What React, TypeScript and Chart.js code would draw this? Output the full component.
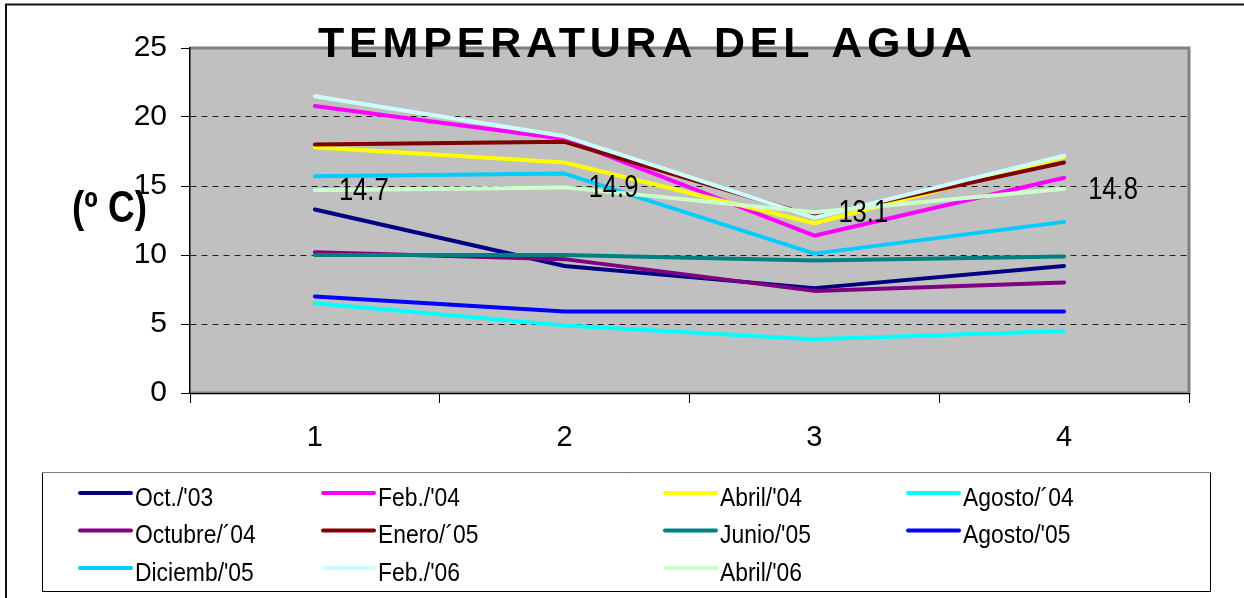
import React, { useEffect, useRef } from 'react';
import { Chart, registerables } from 'chart.js';

Chart.register(...registerables);

// ---- data ----
const categories = ['1', '2', '3', '4'];
const seriesNames = [
  "Oct./'03", "Feb./'04", "Abril/'04", 'Agosto/´04',
  'Octubre/´04', 'Enero/´05', "Junio/'05", "Agosto/'05",
  "Diciemb/'05", "Feb./'06", "Abril/'06",
];
const oct03 = [13.3, 9.2, 7.6, 9.2];
const feb04 = [20.8, 18.4, 11.4, 15.6];
const abril04 = [17.8, 16.7, 12.3, 17.1];
const agosto04 = [6.5, 4.9, 3.9, 4.5];
const octubre04 = [10.2, 9.7, 7.4, 8.0];
const enero05 = [18.0, 18.2, 12.8, 16.7];
const junio05 = [10.0, 10.0, 9.6, 9.9];
const agosto05 = [7.0, 5.9, 5.9, 5.9];
const diciemb05 = [15.7, 15.9, 10.1, 12.4];
const feb06 = [21.5, 18.6, 12.7, 17.2];
const abril06 = [14.7, 14.9, 13.1, 14.8];
const seriesColors = [
  '#000080', '#FF00FF', '#FFFF00', '#00FFFF',
  '#800080', '#800000', '#008080', '#0000FF',
  '#00CCFF', '#CCFFFF', '#CCFFCC',
];
const yMin = 0;
const yMax = 25;
const yStep = 5;
const labeledSeries = 10;
const titleText = 'TEMPERATURA DEL AGUA';
const yTitleText = '(º C)';

const FONT = '"Liberation Sans", Arial, Helvetica, sans-serif';

function condensedText(ctx: CanvasRenderingContext2D, text: string, x: number, y: number, sx: number) {
  ctx.save();
  ctx.translate(x, y);
  ctx.scale(sx, 1);
  ctx.fillText(text, 0, 0);
  ctx.restore();
}

export default function App() {
  const ref = useRef<HTMLCanvasElement | null>(null);

  useEffect(() => {
    const canvas = ref.current;
    if (!canvas) return;
    const values = [oct03, feb04, abril04, agosto04, octubre04, enero05, junio05, agosto05, diciemb05, feb06, abril06];

    const legendCols = [80, 323, 665, 908];
    const legendRows = [493, 530.5, 568];

    const decor = {
      id: 'decor',
      beforeDraw(chart: any) {
        const { ctx, chartArea: a } = chart;
        ctx.save();
        ctx.fillStyle = '#ffffff';
        ctx.fillRect(0, 0, chart.width, chart.height);
        // outer frame
        ctx.strokeStyle = '#111';
        ctx.lineWidth = 2;
        ctx.beginPath();
        ctx.moveTo(6, chart.height + 2);
        ctx.lineTo(6, 4.5);
        ctx.lineTo(chart.width + 2, 4.5);
        ctx.stroke();
        // plot area
        ctx.fillStyle = '#C0C0C0';
        ctx.fillRect(a.left, a.top, a.right - a.left, a.bottom - a.top);
        ctx.strokeStyle = '#808080';
        ctx.lineWidth = 3;
        ctx.beginPath();
        ctx.moveTo(a.left, a.top);
        ctx.lineTo(a.right, a.top);
        ctx.lineTo(a.right, a.bottom);
        ctx.lineTo(a.left, a.bottom);
        ctx.stroke();
        ctx.restore();
      },
      afterDraw(chart: any) {
        const { ctx } = chart;
        ctx.save();
        // title
        ctx.fillStyle = '#000';
        ctx.font = `bold 43px ${FONT}`;
        (ctx as any).letterSpacing = '4.8px';
        ctx.textAlign = 'left';
        ctx.textBaseline = 'alphabetic';
        ctx.fillText(titleText, 318, 57);
        (ctx as any).letterSpacing = '0px';
        // y title
        ctx.font = `bold 44px ${FONT}`;
        condensedText(ctx, yTitleText, 72, 222, 0.84);
        // data labels
        const meta = chart.getDatasetMeta(labeledSeries);
        ctx.font = `32px ${FONT}`;
        ctx.textBaseline = 'middle';
        meta.data.forEach((pt: any, i: number) => {
          condensedText(ctx, values[labeledSeries][i].toFixed(1), pt.x + 24, pt.y + 1, 0.8);
        });
        // legend box
        ctx.lineWidth = 1;
        ctx.strokeStyle = '#000';
        ctx.strokeRect(42.5, 472.5, 1168, 119);
        ctx.strokeStyle = '#808080';
        ctx.beginPath();
        ctx.moveTo(42, 472.5);
        ctx.lineTo(1211, 472.5);
        ctx.stroke();
        ctx.font = `26px ${FONT}`;
        ctx.textBaseline = 'alphabetic';
        chart.data.datasets.forEach((ds: any, i: number) => {
          const x = legendCols[i % 4];
          const y = legendRows[Math.floor(i / 4)];
          ctx.strokeStyle = ds.borderColor;
          ctx.lineWidth = 4;
          ctx.lineCap = 'round';
          ctx.beginPath();
          ctx.moveTo(x, y);
          ctx.lineTo(x + 51, y);
          ctx.stroke();
          ctx.fillStyle = '#000';
          condensedText(ctx, ds.label, x + 55, y + 12.5, 0.88);
        });
        ctx.restore();
      },
    };

    const chart = new Chart(canvas, {
      type: 'line',
      data: {
        labels: categories,
        datasets: values.map((v, i) => ({
          label: seriesNames[i],
          data: v,
          borderColor: seriesColors[i],
          backgroundColor: seriesColors[i],
          borderWidth: 4,
          pointRadius: 0,
          pointHoverRadius: 0,
          tension: 0,
          fill: false,
          borderCapStyle: 'round' as const,
          borderJoinStyle: 'round' as const,
          order: -i,
        })),
      },
      options: {
        animation: false,
        responsive: false,
        devicePixelRatio: 1,
        events: [],
        layout: { padding: { left: 130, top: 48, right: 55, bottom: 145 } },
        plugins: {
          legend: { display: false },
          title: { display: false },
          tooltip: { enabled: false },
        },
        scales: {
          x: {
            type: 'category',
            offset: true,
            afterFit: (s: any) => { s.height = 60; },
            grid: {
              offset: true,
              drawOnChartArea: false,
              drawTicks: true,
              tickLength: 10,
              tickColor: '#000',
              lineWidth: 1,
            },
            border: { display: true, color: '#000', width: 1 },
            ticks: {
              color: '#000',
              font: { family: FONT, size: 29 },
              padding: 18,
              maxRotation: 0,
            },
          },
          y: {
            min: yMin,
            max: yMax,
            afterFit: (s: any) => { s.width = 60; },
            grid: {
              color: (c: any) => (c.tick && (c.tick.value === yMin || c.tick.value === yMax) ? 'rgba(0,0,0,0)' : '#222'),
              lineWidth: 1,
              drawTicks: true,
              tickLength: 9,
              tickColor: '#000',
            },
            border: { display: true, color: '#000', width: 1.5, dash: [6, 5] },
            ticks: {
              stepSize: yStep,
              color: '#000',
              font: { family: FONT, size: 30 },
              padding: 14,
            },
          },
        },
      },
      plugins: [decor],
    });

    return () => chart.destroy();
  }, []);

  return (
    <div style={{ position: 'fixed', left: 0, top: 0, width: 1244, height: 598, overflow: 'hidden' }}>
      <canvas ref={ref} width={1244} height={598} style={{ width: 1244, height: 598, display: 'block' }} />
    </div>
  );
}
